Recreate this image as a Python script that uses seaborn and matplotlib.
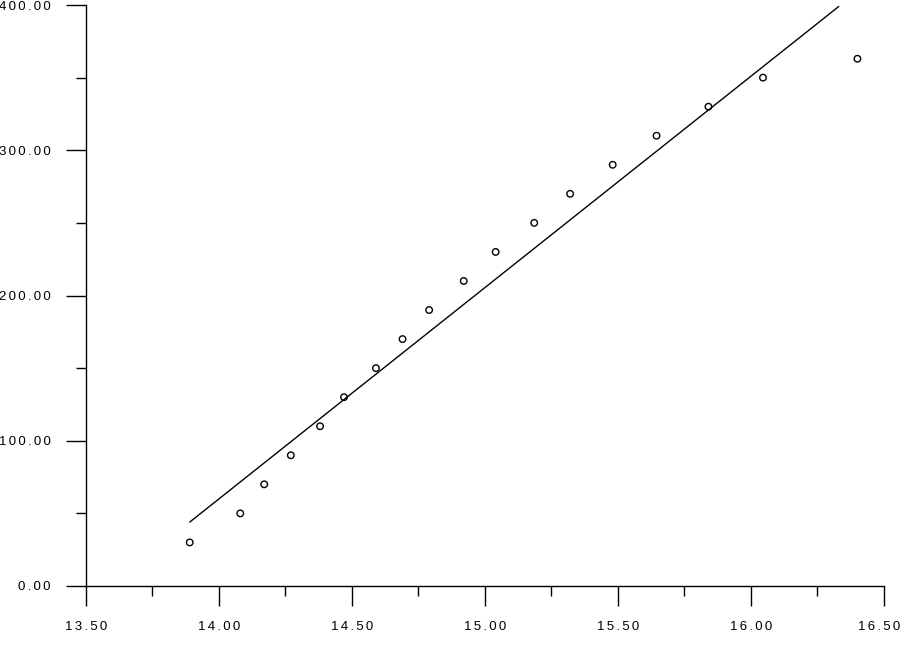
import matplotlib
matplotlib.use('Agg')
import numpy as np
import pandas as pd
import seaborn as sns
import matplotlib.pyplot as plt
from matplotlib.ticker import MultipleLocator, FixedLocator
from matplotlib.transforms import ScaledTranslation

# observed points
x_obs = [13.89, 14.08, 14.17, 14.27, 14.38, 14.47, 14.59, 14.69, 14.79,
         14.92, 15.04, 15.185, 15.32, 15.48, 15.645, 15.84, 16.045, 16.40]
y_obs = [30, 50, 70, 90, 110, 130, 150, 170, 190,
         210, 230, 250, 270, 290, 310, 330, 350, 363]

# fitted line end points
x_fit = [13.89, 16.33]
y_fit = [44, 399]

x_ticks = [13.5, 14.0, 14.5, 15.0, 15.5, 16.0, 16.5]
y_ticks = [0, 100, 200, 300, 400]


def spaced(v):
    # the original labels have wide letter spacing
    return '\u2006'.join(f'{v:.2f}')


sns.set_style('ticks')
plt.rcParams['font.family'] = ['Liberation Sans', 'DejaVu Sans']

fig = plt.figure(figsize=(9.03, 6.68), dpi=100)
ax = fig.add_axes([86 / 903, (668 - 586) / 668, (884 - 86) / 903, (586 - 5) / 668])

df = pd.DataFrame({'x': x_obs, 'y': y_obs})
sns.scatterplot(data=df, x='x', y='y', ax=ax, marker='o', s=22,
                facecolors='none', edgecolor='black', linewidth=1.0)
sns.lineplot(x=x_fit, y=y_fit, ax=ax, color='black', linewidth=1.0)

ax.set_xlim(13.5, 16.5)
ax.set_ylim(0, 400)
ax.xaxis.set_major_locator(FixedLocator(x_ticks))
ax.xaxis.set_minor_locator(MultipleLocator(0.25))
ax.yaxis.set_major_locator(FixedLocator(y_ticks))
ax.yaxis.set_minor_locator(MultipleLocator(50))
ax.set_xticklabels([spaced(v) for v in x_ticks])
ax.set_yticklabels([spaced(v) for v in y_ticks])

ax.tick_params(which='major', length=14.5, width=1.0, color='black',
               labelsize=9.5, labelcolor='black')
ax.tick_params(which='minor', length=7.5, width=1.0, color='black')
ax.tick_params(axis='y', which='major', pad=10.8)
ax.tick_params(axis='x', which='major', pad=10.5)

# keep the last x label inside the figure
last = ax.get_xticklabels()[-1]
last.set_transform(last.get_transform() + ScaledTranslation(-5 / 100, 0, fig.dpi_scale_trans))

for s in ['top', 'right']:
    ax.spines[s].set_visible(False)
for s in ['left', 'bottom']:
    ax.spines[s].set_linewidth(1.0)
    ax.spines[s].set_color('black')

ax.set_xlabel('')
ax.set_ylabel('')

fig.savefig('out.png', dpi=100)
